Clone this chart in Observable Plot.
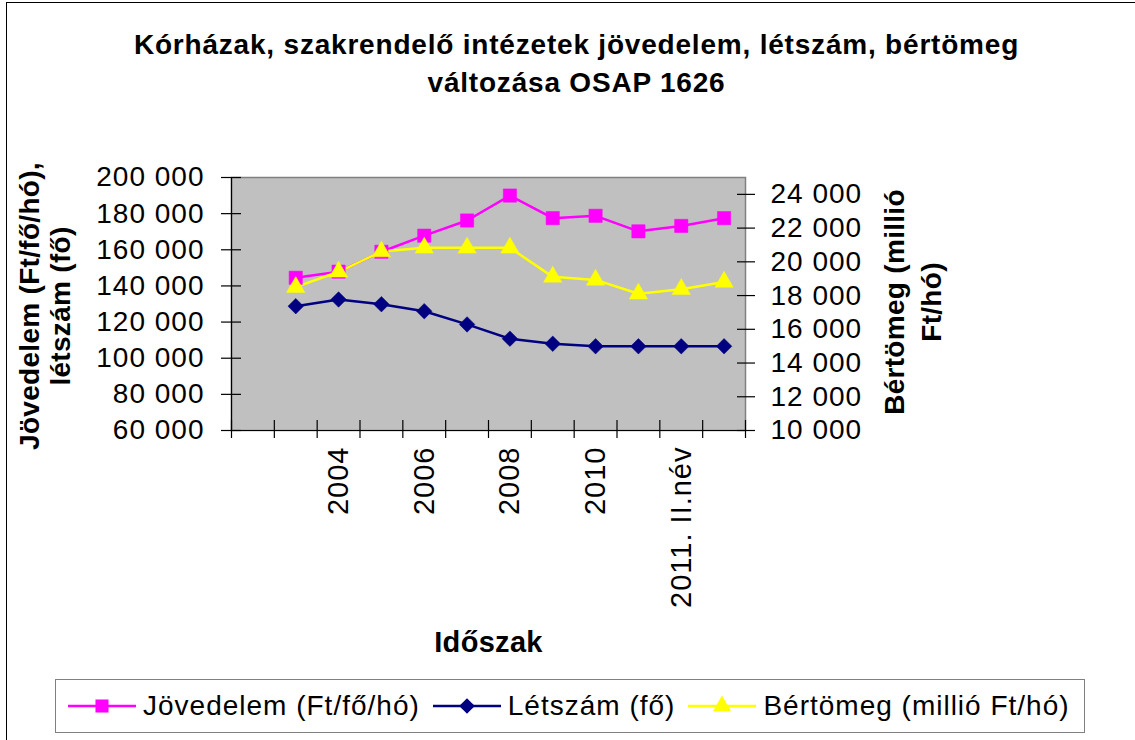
<!DOCTYPE html>
<html>
<head>
<meta charset="utf-8">
<script src="https://cdn.jsdelivr.net/npm/d3@7"></script>
<script src="https://cdn.jsdelivr.net/npm/@observablehq/plot@0.6"></script>
<style>
  body { margin: 0; background: #fff; font-family: "Liberation Sans", Arial, sans-serif; }
  #wrap { position: relative; width: 1135px; height: 740px; overflow: hidden; background: #fff; }
  #border { position: absolute; left: 6px; top: 2px; width: 1300px; height: 900px; border: 1.5px solid #000; }
  #title { position: absolute; left: 9px; top: 26px; width: 1135px; text-align: center; font-weight: bold; font-size: 28px; letter-spacing: 0.8px; line-height: 38px; color: #000; }
  #chart { position: absolute; left: 0; top: 0; }
  #legend { position: absolute; left: 55px; top: 679px; width: 1030px; height: 54px; box-sizing: border-box; border: 1.5px solid #808080; background: #fff; display: flex; align-items: center; padding-left: 11px; font-size: 28px; letter-spacing: 1px; color: #000; }
  .item { display: flex; align-items: center; margin-right: 12px; }
  .item svg { margin-right: 6px; }
</style>
</head>
<body>
<div id="wrap">
  <div id="border"></div>
  <div id="title">Kórházak, szakrendelő intézetek jövedelem, létszám, bértömeg<br>változása OSAP 1626</div>
  <div id="chart"></div>
  <div id="legend"></div>
</div>
<script>
// ---- data ----
const categories = ["", "2003", "2004", "2005", "2006", "2007", "2008", "2009", "2010", "2011. I.név", "2011. II.név", "2011. III.név"];
const jovedelem = [null, 144500, 147900, 158900, 167800, 176200, 190000, 177500, 178800, 170200, 173200, 177500];
const letszam   = [null, 128800, 132500, 129900, 126000, 118700, 110800, 108000, 106600, 106600, 106600, 106600];
const bertomeg  = [null, 18500, 19410, 20610, 20830, 20830, 20830, 19110, 18930, 18110, 18380, 18810];
const leftTicks = [60000, 80000, 100000, 120000, 140000, 160000, 180000, 200000];
const rightTicks = [10000, 12000, 14000, 16000, 18000, 20000, 22000, 24000];
const leftDomain = [60000, 200000];
const rightDomain = [10000, 25000];
const seriesNames = ["Jövedelem (Ft/fő/hó)", "Létszám (fő)", "Bértömeg (millió Ft/hó)"];
const seriesColors = ["#FF00FF", "#000080", "#FFFF00"];
const seriesSymbols = ["square", "diamond2", "triangle"];
const leftTitle = "Jövedelem (Ft/fő/hó),\nlétszám (fő)";
const rightTitle = "Bértömeg (millió\nFt/hó)";
const xTitle = "Időszak";

// ---- helpers ----
const k = (leftDomain[1] - leftDomain[0]) / (rightDomain[1] - rightDomain[0]);
const toLeft = v => leftDomain[0] + (v - rightDomain[0]) * k;
const fromLeft = v => Math.round(rightDomain[0] + (v - leftDomain[0]) / k);
const fmt = v => d3.format(",")(v).replace(/,/g, " ");

const rows = categories.map((c, i) => ({i, c, jov: jovedelem[i], let: letszam[i], bert: bertomeg[i] == null ? null : toLeft(bertomeg[i])}))
  .filter(d => d.jov != null);
const boundaries = categories.map((c, i) => i - 0.5).concat([categories.length - 0.5]);
const labelIdx = categories.map((c, i) => i).filter(i => i % 2 === 0 && categories[i] !== "");

const W = 1135, H = 670;
const mL = 231, mR = W - 745, mT = 177, mB = H - 430;

const chart = Plot.plot({
  width: W, height: H,
  marginLeft: mL, marginRight: mR, marginTop: mT, marginBottom: mB,
  style: {fontFamily: "Liberation Sans, Arial, sans-serif", color: "#000", background: "transparent", overflow: "visible"},
  x: {type: "linear", domain: [-0.5, categories.length - 0.5], axis: null},
  y: {domain: leftDomain, axis: null},
  marks: [
    Plot.frame({fill: "#C0C0C0", stroke: "#808080", strokeWidth: 1.5}),
    Plot.ruleX([boundaries[0]], {stroke: "#000", strokeWidth: 1.2}),
    Plot.ruleY([leftDomain[0]], {stroke: "#000", strokeWidth: 1.2}),
    // cross ticks
    Plot.axisY(leftTicks, {anchor: "left", label: null, tickSize: 20, dx: 10, tickFormat: () => "", stroke: "#000", strokeWidth: 1.2}),
    Plot.axisY(rightTicks.map(toLeft), {anchor: "right", label: null, tickSize: 18, dx: -9, tickFormat: () => "", stroke: "#000", strokeWidth: 1.2}),
    Plot.axisX(boundaries, {anchor: "bottom", label: null, tickSize: 18, dy: -10, tickFormat: () => "", stroke: "#000", strokeWidth: 1.2}),
    // tick labels
    Plot.axisY(leftTicks, {anchor: "left", label: null, tickSize: 0, tickPadding: 27, fontSize: 28, tickFormat: fmt}),
    Plot.axisY(rightTicks.map(toLeft), {anchor: "right", label: null, tickSize: 0, tickPadding: 25, fontSize: 28, tickFormat: d => fmt(fromLeft(d))}),
    Plot.axisX(labelIdx, {anchor: "bottom", label: null, tickSize: 0, tickPadding: 16, tickRotate: -90, fontSize: 29, tickFormat: i => categories[i]}),
    // axis titles
    Plot.text([leftTitle], {frameAnchor: "left", rotate: -90, dx: -187, dy: 2, fontSize: 28, fontWeight: "bold", lineHeight: 1.1, textAnchor: "middle", lineAnchor: "middle"}),
    Plot.text([rightTitle], {frameAnchor: "right", rotate: -90, dx: 165, dy: -2, fontSize: 28, fontWeight: "bold", lineHeight: 1.35, textAnchor: "middle", lineAnchor: "middle"}),
    Plot.text([xTitle], {frameAnchor: "bottom", dy: 212, fontSize: 29, fontWeight: "bold", lineAnchor: "middle"}),
    // series
    Plot.line(rows, {x: "i", y: "jov", stroke: seriesColors[0], strokeWidth: 2.5}),
    Plot.line(rows, {x: "i", y: "let", stroke: seriesColors[1], strokeWidth: 2.5}),
    Plot.line(rows, {x: "i", y: "bert", stroke: seriesColors[2], strokeWidth: 2.5}),
    Plot.dot(rows, {x: "i", y: "jov", symbol: seriesSymbols[0], r: 7.5, fill: seriesColors[0], stroke: seriesColors[0], strokeWidth: 0.5}),
    Plot.dot(rows, {x: "i", y: "let", symbol: seriesSymbols[1], r: 7, fill: seriesColors[1], stroke: seriesColors[1], strokeWidth: 0.5}),
    Plot.dot(rows, {x: "i", y: "bert", symbol: seriesSymbols[2], r: 6.8, fill: seriesColors[2], stroke: seriesColors[2], strokeWidth: 0.5})
  ]
});
document.getElementById("chart").appendChild(chart);
// slightly wider tick label text, as in the reference
d3.select(chart).selectAll('g[aria-label="y-axis tick label"] text, g[aria-label="x-axis tick label"] text').style("letter-spacing", "1px");
d3.select(chart).selectAll('g[aria-label="text"] text').style("letter-spacing", "0.3px");

// ---- legend ----
const legend = document.getElementById("legend");
const symGen = {square: d3.symbolSquare, diamond2: d3.symbolDiamond2, triangle: d3.symbolTriangle};
const symSize = {square: 170, diamond2: 155, triangle: 140};
seriesNames.forEach((name, j) => {
  const item = document.createElement("div");
  item.className = "item";
  const svg = d3.create("svg").attr("width", 70).attr("height", 24);
  svg.append("line").attr("x1", 1).attr("x2", 69).attr("y1", 12).attr("y2", 12).attr("stroke", seriesColors[j]).attr("stroke-width", 2.5);
  svg.append("path").attr("transform", "translate(35,12)").attr("d", d3.symbol(symGen[seriesSymbols[j]], symSize[seriesSymbols[j]])()).attr("fill", seriesColors[j]);
  item.appendChild(svg.node());
  const t = document.createElement("span");
  t.textContent = name;
  item.appendChild(t);
  legend.appendChild(item);
});
</script>
</body>
</html>
